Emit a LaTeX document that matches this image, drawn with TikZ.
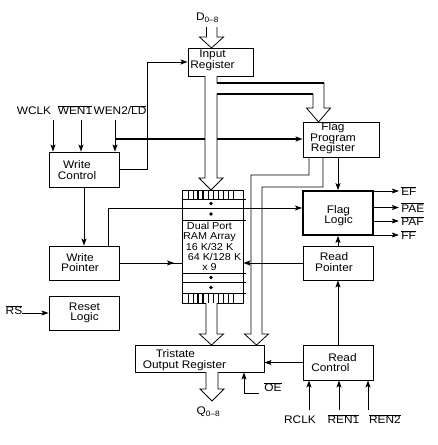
\documentclass[tikz,border=0pt]{standalone}
\usepackage{fontspec}
\setmainfont{Liberation Sans}[FakeStretch=1.08]
\usetikzlibrary{arrows.meta,decorations.markings}
\newcommand{\ovl}[1]{$\overline{\mbox{#1}}$}
\begin{document}
\begin{tikzpicture}[x=1pt,y=-1pt,
  box/.style={draw, line width=0.9pt, minimum width=70pt, minimum height=34pt, inner sep=0pt},
  txt/.style={font=\fontsize{11}{10.5}\selectfont, align=center, inner sep=0pt},
  lab/.style={font=\fontsize{11}{11}\selectfont, inner sep=0pt},
  arr/.style={-{Stealth[length=7pt,width=5pt,inset=1.5pt]}, line width=0.8pt},
  ln/.style={line width=0.8pt},
  bus/.style={line width=1.7pt}]
\useasboundingbox (0,0) rectangle (438,445);

% boxes
\node[box, minimum width=65pt, minimum height=28pt] (ir) at (220.5,62) {};
\node[box, minimum width=76pt, minimum height=35pt] (fpr) at (341,139.5) {};
\node[box, minimum height=35pt] (wc) at (84,169.5) {};
\node[box] (wp) at (84,263) {};
\node[box] (rl) at (84,313) {};
\node[box, line width=1.8pt, minimum height=44pt] (fl) at (338,213) {};
\node[box] (rp) at (338,263) {};
\node[box, minimum width=129pt, minimum height=27pt] (tor) at (199.5,358.5) {};
\node[box, minimum height=35pt] (rc) at (338,362.5) {};
\node[box, minimum width=61pt, minimum height=113pt] (ram) at (212.5,246.5) {};

% RAM internals
\foreach \y in {199,208,220,273,282,293} \draw[ln] (182,\y) -- (246,\y);
\foreach \x in {188,193,...,233} {\draw[line width=0.7pt] (\x,190) -- (\x,199); \draw[line width=0.7pt] (\x,293) -- (\x,303);}
\draw[line width=1.6pt] (198,190) -- (198,199) (203,190) -- (203,199) (198,293) -- (198,303) (203,293) -- (203,303);
\foreach \y in {203.5,214,277.5,287.5} \fill (211,\y) circle (1.9pt);
\node[font=\fontsize{10}{10.3}\selectfont, align=center, inner sep=0pt] (ramT) at (209.5,246.5)
  {Dual Port\\RAM Array\\16 K/32 K\\\hspace*{10pt}64 K/128 K\\x 9};

% box texts
\node[txt] (irT) at (212.5,60.5) {Input\\Register};
\node[txt] (fprT) at (333,138.5) {Flag\\Program\\Register};
\node[txt] (wcT) at (77,170) {Write\\Control};
\node[txt] (wpT) at (80,262.5) {Write\\Pointer};
\node[txt] (rlT) at (84.5,313) {Reset\\Logic};
\node[txt] (flT) at (338.5,215.5) {Flag\\Logic};
\node[txt] (rpT) at (334,262) {Read\\Pointer};
\node[txt, align=left] (rcT) at (334,362.5) {\hspace*{17pt}Read\\Control};
\node[txt, align=left] (torT) at (184.5,360) {\hspace*{13pt}Tristate\\Output Register};

% labels
\node[lab] (dlab) at (207.5,18) {D\textsubscript{0–8}};
\node[lab] (qlab) at (208.5,412) {Q\textsubscript{0–8}};
\node[lab] (wclk) at (34,111) {WCLK};
\node[lab] (wen1) at (75,110) {\ovl{WEN1}};
\node[lab] (wen2) at (120,110) {WEN2/\ovl{LD}};
\node[lab] (rs) at (14,310) {\ovl{RS}};
\node[lab] (oe) at (273,387) {\ovl{OE}};
\node[lab] (rclk) at (300,420) {RCLK};
\node[lab] (ren1) at (343.5,419) {\ovl{REN1}};
\node[lab] (ren2) at (385,419) {\ovl{REN2}};

% free ends
\coordinate (wclkS) at (53,120);
\coordinate (wen1S) at (81,120);
\coordinate (wen2S) at (115,120);
\coordinate (rsE) at (22,313);
\coordinate (oeE) at (259,393);
\coordinate (rclkS) at (309,410);
\coordinate (ren1S) at (339,410);
\coordinate (ren2S) at (368,410);

% control inputs
\draw[arr] (wclkS) -- (wclkS |- wc.north);
\draw[arr] (wen1S) -- (wen1S |- wc.north);
\draw[arr] (wen2S) -- (wen2S |- wc.north);
\draw[arr] (rclkS) -- (rclkS |- rc.south);
\draw[arr] (ren1S) -- (ren1S |- rc.south);
\draw[arr] (ren2S) -- (ren2S |- rc.south);
\draw[arr] (rsE) -- (rl.west);
\draw[arr] (oeE) -| ([xshift=44.5pt]tor.south);

% connectors
\draw[arr] (wc.east) -- ++(28,0) |- (ir.west);
\draw[arr] (wc.south) -- (wp.north);
\draw[arr] ([xshift=24pt]wp.north) |- (fl.west |- 0,208);
\draw[ln, postaction={decorate}, decoration={markings, mark=at position 0.88 with {\arrow{Stealth[length=7pt,width=5pt,inset=1.5pt]}}}] (wp.east) -- (ram.west |- wp.east);
\draw[arr] (fpr.south -| fl.north) -- (fl.north);
\draw[arr] (rp.north) -- (fl.south);
\draw[arr] (rc.north) -- (rp.south);
\draw[arr] (rp.west) -- (ram.east |- rp.west);
\draw[arr] (rc.west) -- (tor.east |- rc.west);
\draw[bus, -{Stealth[length=7pt,width=5pt,inset=1.5pt]}] (wen2S |- 0,139) -- (fpr.west |- 0,139);

% flag outputs
\draw[arr] (fl.east |- 0,191) -- ++(25,0) node[lab, anchor=west, xshift=2pt] (oEF) {\ovl{EF}};
\draw[arr] (fl.east |- 0,207.5) -- ++(25,0) node[lab, anchor=west, xshift=2pt] (oPAE) {\ovl{PAE}};
\draw[arr] (fl.east |- 0,221) -- ++(25,0) node[lab, anchor=west, xshift=2pt] (oPAF) {\ovl{PAF}};
\draw[arr] (fl.east |- 0,235) -- ++(25,0) node[lab, anchor=west, xshift=2pt] (oFF) {\ovl{FF}};

% hollow buses
\draw[ln, fill=white] (206.5,27) -- (206.5,37) -- (199.5,37) -- (211.5,48) -- (223.5,37) -- (217,37) -- (217,27);
\draw[ln, fill=white] (217,76) -- (217,83) -- (324,83) -- (324,108) -- (330.5,108) -- (318.5,122) -- (306.5,108) -- (313,108) -- (313,94) -- (217,94) -- (217,178) -- (223,178) -- (211,190) -- (199,178) -- (205,178) -- (205,76);
\draw[bus] (217,83) -- (324,83);
\draw[bus] (217,94) -- (313,94);
\draw[ln] (309,157) -- (309,175) -- (251,175) -- (251,334) -- (244.5,334) -- (256.5,345) -- (268.5,334) -- (262,334) -- (262,187) -- (323,187) -- (323,157);
\draw[ln, fill=white] (206,303) -- (206,334) -- (199.5,334) -- (211.5,345) -- (223.5,334) -- (217,334) -- (217,303);
\draw[ln, fill=white] (206,372) -- (206,389) -- (200,389) -- (212,401) -- (224,389) -- (218,389) -- (218,372);
\end{tikzpicture}
\end{document}
